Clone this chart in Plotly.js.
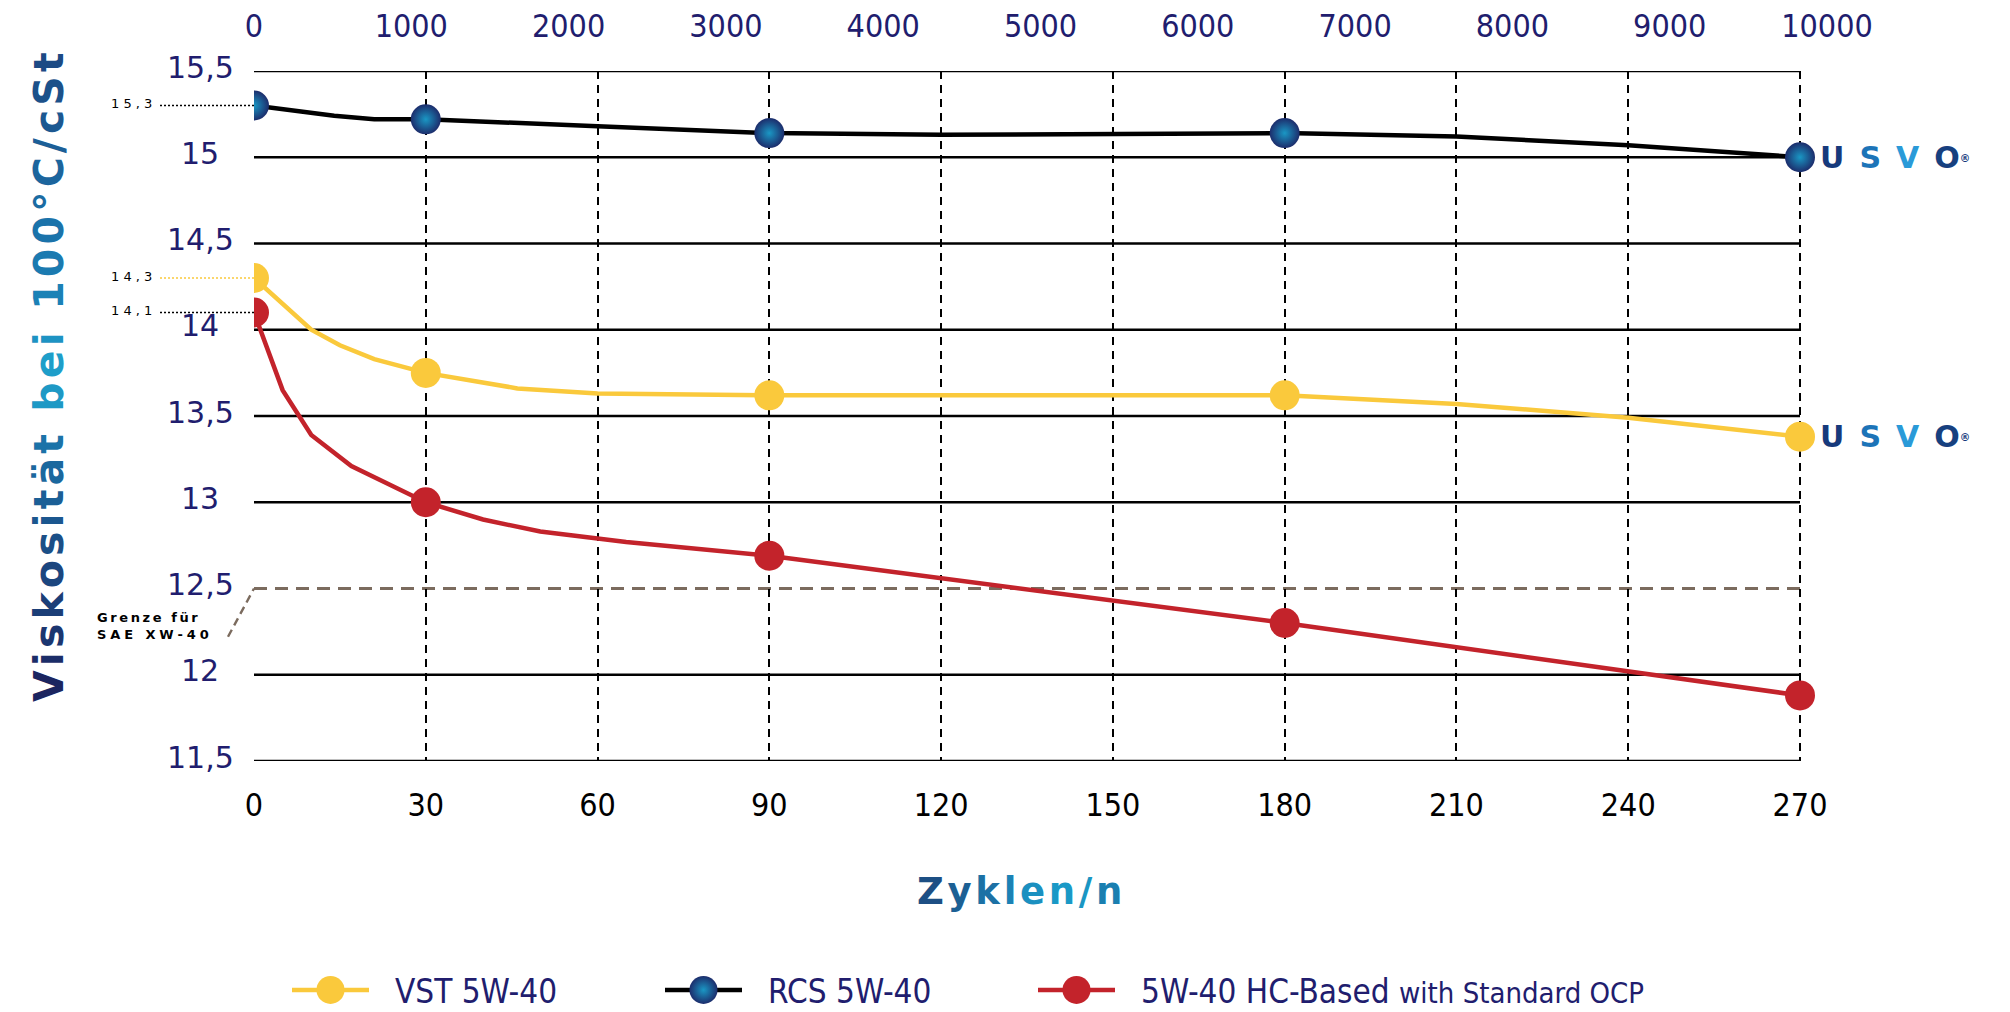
<!DOCTYPE html>
<html>
<head>
<meta charset="utf-8">
<script src="https://cdn.plot.ly/plotly-3.0.1.min.js"></script>
<style>
html,body{margin:0;padding:0;background:#ffffff;}
#chart{width:2010px;height:1012px;}
</style>
</head>
<body>
<div id="chart"></div>
<script>
// ---------------- data ----------------
const SERIES_NAMES = ['VST 5W-40', 'RCS 5W-40', '5W-40 HC-Based with Standard OCP'];

const CYCLES_VST = [0, 10, 15, 21, 30, 46, 60, 90, 180, 210, 240, 270];
const VISC_VST   = [14.3, 14.0, 13.91, 13.83, 13.75, 13.66, 13.63, 13.62, 13.62, 13.57, 13.49, 13.38];

const CYCLES_RCS = [0, 14, 21, 30, 60, 90, 120, 180, 210, 240, 270];
const VISC_RCS   = [15.3, 15.24, 15.22, 15.22, 15.18, 15.14, 15.13, 15.14, 15.12, 15.07, 15.0];

const CYCLES_HC  = [0, 5, 10, 17, 30, 40, 50, 65, 90, 180, 270];
const VISC_HC    = [14.1, 13.65, 13.39, 13.21, 13.0, 12.9, 12.83, 12.77, 12.69, 12.3, 11.88];

const MARKER_CYCLES = [0, 30, 90, 180, 270];
const X_TICKS   = [0, 30, 60, 90, 120, 150, 180, 210, 240, 270];
const TOP_TICKS = [0, 1000, 2000, 3000, 4000, 5000, 6000, 7000, 8000, 9000, 10000];
const Y_TICKS   = [11.5, 12, 12.5, 13, 13.5, 14, 14.5, 15, 15.5];
const GRID_Y    = [11.5, 12, 13, 13.5, 14, 14.5, 15, 15.5];
const LIMIT_Y   = 12.5;
const LIMIT_LABEL = ['Grenze für', 'SAE XW-40'];
const Y_TITLE = 'Viskosität bei 100°C/cSt';
const X_TITLE = 'Zyklen/n';
const BRAND = 'USVO';

// ---------------- geometry & style ----------------
const W = 2010, H = 1012;
const ML = 254, MR = 183, MT = 71, MB = 251;
const PW = W - ML - MR, PH = H - MT - MB;
const XMAX = 270 * PW / 1546;          // plot area reaches past 270 so the top axis can end at 10000
const px = v => (v - ML) / PW;          // pixel -> paper x
const py = v => (H - MB - v) / PH;      // pixel -> paper y

const NAVY = '#211d6e';
const YELLOW = '#fac93c';
const RED = '#c3232b';
const COND = "'DejaVu Sans Condensed', 'Liberation Sans Narrow', 'DejaVu Sans', sans-serif";
const SANS = "'DejaVu Sans', Verdana, sans-serif";

function hex2rgb(h){h=h.replace('#','');return [0,2,4].map(i=>parseInt(h.substr(i,2),16));}
function lerpStops(stops,t){
  for(let i=0;i<stops.length-1;i++){
    const [t0,c0]=stops[i],[t1,c1]=stops[i+1];
    if(t<=t1){const f=(t-t0)/(t1-t0||1);const a=hex2rgb(c0),b=hex2rgb(c1);
      return 'rgb('+a.map((v,k)=>Math.round(v+(b[k]-v)*f)).join(',')+')';}
  }
  return stops[stops.length-1][1];
}
function gradText(str, stops, sep){
  const ch=[...str];
  return ch.map((c,i)=>{
    if(c===' ') return ' ';
    const t = ch.length>1 ? i/(ch.length-1) : 0;
    return '<span style="color:'+lerpStops(stops,t)+'">'+c+'</span>';
  }).join(sep);
}
const fmt = v => String(v).replace('.', ',');
const spaced = s => [...s].join(' ');
const markerSizes = xs => xs.map(x => MARKER_CYCLES.includes(x) ? 30 : 0);

// ---------------- traces ----------------
const traces = [
  {x: CYCLES_VST, y: VISC_VST, name: SERIES_NAMES[0], mode: 'lines+markers', type: 'scatter',
   line: {color: YELLOW, width: 4.5},
   marker: {color: YELLOW, opacity: 1, size: markerSizes(CYCLES_VST), line: {width: 0}}},
  {x: CYCLES_RCS, y: VISC_RCS, name: SERIES_NAMES[1], mode: 'lines+markers', type: 'scatter',
   line: {color: '#000000', width: 4.5},
   marker: {color: '#1c2d6c', opacity: 1, size: markerSizes(CYCLES_RCS), line: {width: 0},
            gradient: {type: 'radial', color: '#1a97c4'}}},
  {x: CYCLES_HC, y: VISC_HC, name: '5W-40 HC-Based <span style="font-size:29px">with Standard OCP</span>',
   mode: 'lines+markers', type: 'scatter',
   line: {color: RED, width: 4.5},
   marker: {color: RED, opacity: 1, size: markerSizes(CYCLES_HC), line: {width: 0}}},
  {x: TOP_TICKS, y: TOP_TICKS.map(() => Y_TICKS[0]), xaxis: 'x2', yaxis: 'y', mode: 'markers',
   marker: {opacity: 0}, showlegend: false, hoverinfo: 'skip'}
];

// ---------------- shapes ----------------
const shapes = [];
GRID_Y.forEach(v => shapes.push({type: 'line', xref: 'x', yref: 'y', x0: 0, x1: 270, y0: v, y1: v,
  line: {color: '#000', width: 2.6}, layer: 'below'}));
shapes.push({type: 'line', xref: 'x', yref: 'y', x0: 0, x1: 270, y0: LIMIT_Y, y1: LIMIT_Y,
  line: {color: '#7b6b5e', width: 2.8, dash: '13px,8px'}, layer: 'below'});
shapes.push({type: 'line', xref: 'paper', yref: 'y', x0: px(228), x1: 0, y0: LIMIT_Y - 0.28, y1: LIMIT_Y,
  line: {color: '#7b6b5e', width: 2.4, dash: '8px,5px'}});
const startVals = [[VISC_RCS[0], '#000'], [VISC_VST[0], YELLOW], [VISC_HC[0], '#000']];
startVals.forEach(([v, c]) => shapes.push({type: 'line', xref: 'paper', yref: 'y', x0: px(160), x1: 0, y0: v, y1: v,
  line: {color: c, width: 1.4, dash: '2px,2px'}, layer: 'below'}));

// ---------------- annotations ----------------
const ann = [];
Y_TICKS.forEach(v => ann.push({xref: 'paper', yref: 'y', x: px(200), y: v, text: fmt(v), showarrow: false,
  xanchor: 'center', yanchor: 'middle', yshift: 4, font: {family: SANS, size: 30, color: NAVY}}));
startVals.forEach(([v]) => ann.push({xref: 'paper', yref: 'y', x: px(131), y: v, text: spaced(fmt(v)), showarrow: false,
  xanchor: 'center', yanchor: 'middle', yshift: 2, font: {family: SANS, size: 13, color: '#000'}}));
ann.push({xref: 'paper', yref: 'y', x: px(95), y: LIMIT_Y - 0.215, showarrow: false, xanchor: 'left', yanchor: 'middle', align: 'left',
  text: [...LIMIT_LABEL[0]].join('\u2009') + '<br>' + [...LIMIT_LABEL[1]].join('\u2009\u200A'),
  font: {family: SANS, size: 13, color: '#000', weight: 'bold'}});

const yStops = [[0, '#1b2560'], [0.38, '#1b6ea4'], [0.5, '#1fa3cc'], [0.62, '#1b86bb'], [1, '#1c4a84']];
ann.push({xref: 'paper', yref: 'paper', x: px(49), y: py(377), textangle: -90, showarrow: false,
  xanchor: 'center', yanchor: 'middle', text: gradText(Y_TITLE, yStops, '\u200A'),
  font: {family: SANS, size: 41, weight: 'bold', color: NAVY}});
const xStops = [[0, '#1d4f84'], [0.5, '#1b8bbd'], [0.8, '#1a9fca'], [1, '#1a7fb0']];
ann.push({xref: 'paper', yref: 'paper', x: px(1019), y: py(891), showarrow: false,
  xanchor: 'center', yanchor: 'middle', text: gradText(X_TITLE, xStops, '\u200A'),
  font: {family: SANS, size: 37, weight: 'bold', color: NAVY}});

const brandColors = ['#163a7c', '#1c74b8', '#2a9ad8', '#17407f'];
const brandText = [...BRAND].map((c, i) => '<span style="color:' + brandColors[i] + '">' + c + '</span>').join('\u2002')
  + '<span style="font-size:15px;color:#163a7c"><sup>®</sup></span>';
[[CYCLES_RCS, VISC_RCS], [CYCLES_VST, VISC_VST]].forEach(([xs, ys]) => ann.push({
  xref: 'x', yref: 'y', x: xs[xs.length - 1], y: ys[ys.length - 1], showarrow: false,
  xanchor: 'left', yanchor: 'middle', xshift: 18, text: brandText,
  font: {family: SANS, size: 30, weight: 'bold', color: '#163a7c'}}));

// ---------------- layout ----------------
const layout = {
  width: W, height: H,
  margin: {l: ML, r: MR, t: MT, b: MB, pad: 0, autoexpand: false},
  paper_bgcolor: '#fff', plot_bgcolor: 'rgba(0,0,0,0)',
  showlegend: true,
  xaxis: {range: [0, XMAX], tickvals: X_TICKS, showgrid: true, gridcolor: '#000', gridwidth: 2,
          griddash: '8px,6px', zeroline: false, showline: false, ticks: '', automargin: false,
          ticklabelstandoff: 22, tickfont: {family: COND, size: 32, color: '#000'}},
  xaxis2: {overlaying: 'x', side: 'top', anchor: 'y', range: [0, 10000], tickvals: TOP_TICKS,
           tickformat: 'd', exponentformat: 'none', separatethousands: false, automargin: false,
           showgrid: false, zeroline: false, showline: false, ticks: '',
           ticklabelstandoff: 27, tickfont: {family: COND, size: 32, color: NAVY}},
  yaxis: {range: [11.5, 15.5], showgrid: false, zeroline: false, showline: false,
          showticklabels: false, ticks: '', automargin: false},
  shapes: shapes,
  annotations: ann,
  legend: {orientation: 'h', x: px(292), y: py(990), xanchor: 'left', yanchor: 'middle',
           itemwidth: 93, entrywidth: 265, bgcolor: 'rgba(0,0,0,0)', borderwidth: 0,
           font: {family: COND, size: 33, color: NAVY}, itemclick: false}
};

Plotly.newPlot('chart', traces, layout, {staticPlot: true, displayModeBar: false}).then(gd => {
  gd.querySelectorAll('.legend [clip-path]').forEach(e => e.removeAttribute('clip-path'));
  gd.querySelectorAll('.legend .traces').forEach(it => {
    const ln = it.querySelector('.legendlines path');
    if (ln) ln.setAttribute('d', 'M0,0h77');
    it.querySelectorAll('.legendpoints path.scatterpts').forEach(p => {
      p.setAttribute('d', 'M14,0A14,14 0 1,1 0,-14A14,14 0 0,1 14,0Z');
      p.setAttribute('transform', 'translate(38.5,0)');
    });
  });
});
</script>
</body>
</html>
